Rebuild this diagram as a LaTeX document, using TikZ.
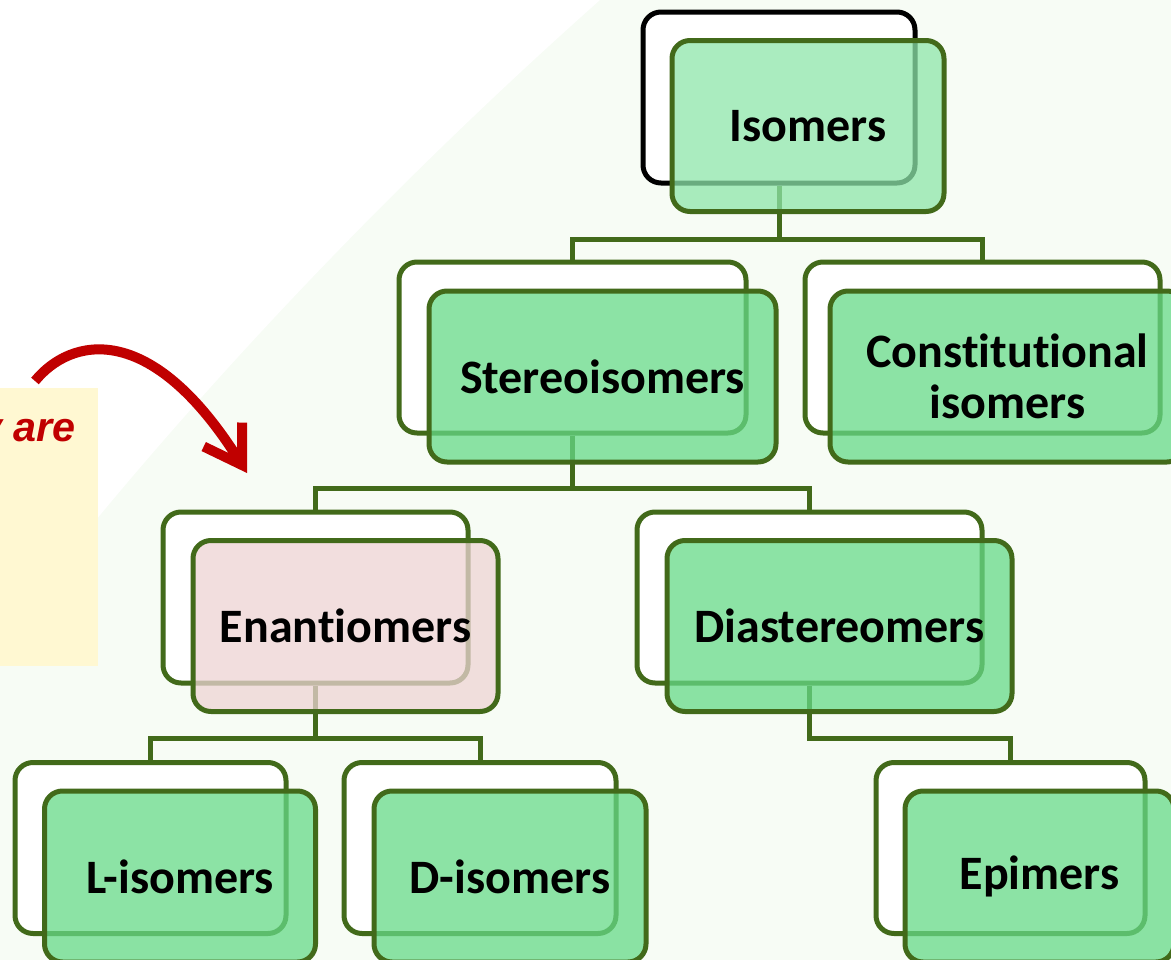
\documentclass[tikz,border=0pt]{standalone}
\usepackage{fontspec}
\setmainfont{Carlito}[Ligatures={NoCommon}]
\newfontfamily\notefont{Liberation Sans}
\usetikzlibrary{arrows.meta}

\definecolor{boxline}{RGB}{66,106,26}
\definecolor{boxfill}{RGB}{102,218,136}
\definecolor{topfill}{RGB}{142,230,170}
\definecolor{pinkfill}{RGB}{238,212,212}
\definecolor{notefill}{RGB}{255,248,210}
\definecolor{arrowred}{RGB}{192,0,0}
\definecolor{bgtint}{RGB}{247,252,245}

\begin{document}
\begin{tikzpicture}[x=0.75pt,y=0.75pt,yscale=-1,xscale=1,
  back/.style={draw=boxline,fill=white,line width=3.75pt,rounded corners=13.5pt,minimum height=128.25pt,inner sep=0pt},
  front/.style={draw=boxline,fill=boxfill,fill opacity=0.75,text opacity=1,line width=3.75pt,rounded corners=13.5pt,minimum height=128.25pt,inner sep=0pt,font=\fontsize{36}{38}\selectfont\bfseries,align=center},
  link/.style={draw=boxline,line width=3.75pt},
  redarrow/.style={draw=arrowred,line width=7.5pt,-{Straight Barb[length=27pt,width=34pt]}}]
\clip (0,0) rectangle (1171,960);

%Background
\fill[bgtint] (0,0) rectangle (1171,960);
\fill[white] (0,0) -- (600,0) .. controls (420,160) and (200,380) .. (0,640) -- cycle;

%Shape: Note box
\node[fill=notefill,minimum width=73.5pt,minimum height=208.5pt,inner sep=0pt] (note) at (49,527) {};
% Text Node
\node[anchor=base east,inner sep=0pt,text=arrowred,font=\notefont\fontsize{31}{36}\selectfont\bfseries\itshape] (noteText) at (76,441) {y are};

%Curve: red arrow
\coordinate (arrowStart) at (35,381);
\coordinate (arrowEnd) at (247,473);
\draw[redarrow] (arrowStart) .. controls (70,338) and (150,318) .. (arrowEnd);

%Shape: back boxes
\node[back,draw=black,minimum width=204pt] (isoB) at (779,97.5) {};
\node[back,minimum width=260.25pt] (stB) at (572.5,347.5) {};
\node[back,minimum width=266.25pt] (coB) at (982.5,347.5) {};
\node[back,minimum width=228.75pt] (enB) at (315.5,597.5) {};
\node[back,minimum width=258.75pt] (diB) at (809.5,597.5) {};
\node[back,minimum width=203.25pt] (lB) at (150.5,848) {};
\node[back,minimum width=204pt] (dB) at (480,848) {};
\node[back,minimum width=201.75pt] (epB) at (1010.5,848) {};

%Straight Lines: tree links
\draw[link] (isoB.south) -- ++(0,54) -| (stB.north);
\draw[link] (isoB.south) -- ++(0,54) -| (coB.north);
\draw[link] (stB.south) -- ++(0,53) -| (enB.north);
\draw[link] (stB.south) -- ++(0,53) -| (diB.north);
\draw[link] (enB.south) -- ++(0,53) -| (lB.north);
\draw[link] (enB.south) -- ++(0,53) -| (dB.north);
\draw[link] (diB.south) -- ++(0,53) -| (epB.north);

%Shape: front boxes
\node[front,fill=topfill,minimum width=204pt] (isoF) at ([shift={(29,28.5)}]isoB.center) {Isomers};
\node[front,minimum width=260.25pt] (stF) at ([shift={(30,29)}]stB.center) {Stereoisomers};
\node[front,minimum width=266.25pt] (coF) at ([shift={(25,29)}]coB.center) {Constitutional\\isomers};
\node[front,fill=pinkfill,minimum width=228.75pt] (enF) at ([shift={(30,28.5)}]enB.center) {Enantiomers};
\node[front,minimum width=258.75pt] (diF) at ([shift={(30,28.5)}]diB.center) {Diastereomers};
\node[front,minimum width=203.25pt] (lF) at ([shift={(29.5,28.5)}]lB.center) {L-isomers};
\node[front,minimum width=204pt] (dF) at ([shift={(30,28.5)}]dB.center) {D-isomers};
\node[front,minimum width=201.75pt] (epF) at ([shift={(29,28.5)}]epB.center) {Epimers};

\end{tikzpicture}
\end{document}
